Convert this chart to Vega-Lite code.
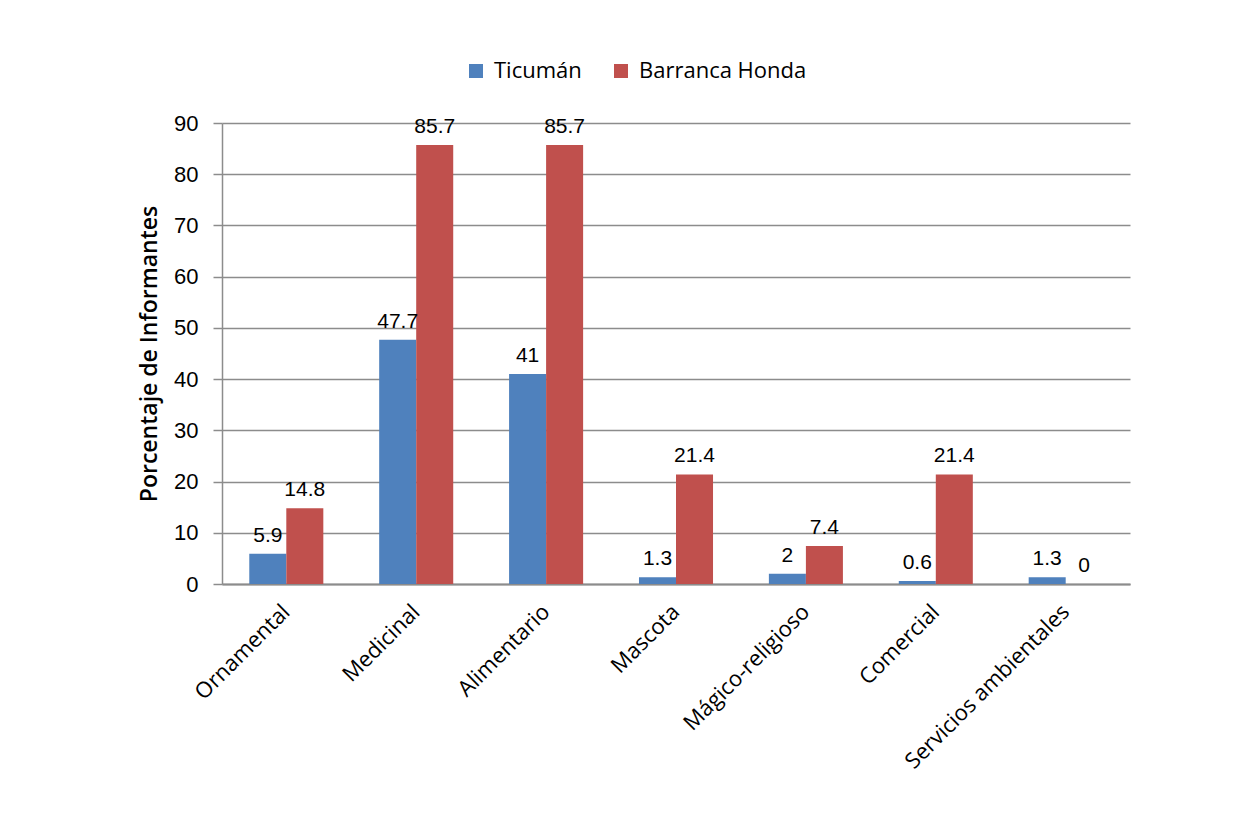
{
  "$schema": "https://vega.github.io/schema/vega-lite/v6.json",
  "width": 908,
  "height": 461,
  "autosize": {"type": "none"},
  "padding": {"left": 222, "top": 123, "right": 106, "bottom": 234},
  "background": "white",
  "config": {"view": {"stroke": null}, "font": "Open Sans"},
  "data": {
    "values": [
      {"uso": "Ornamental", "sitio": "Ticumán", "valor": 5.9},
      {"uso": "Ornamental", "sitio": "Barranca Honda", "valor": 14.8},
      {"uso": "Medicinal", "sitio": "Ticumán", "valor": 47.7},
      {"uso": "Medicinal", "sitio": "Barranca Honda", "valor": 85.7},
      {"uso": "Alimentario", "sitio": "Ticumán", "valor": 41},
      {"uso": "Alimentario", "sitio": "Barranca Honda", "valor": 85.7},
      {"uso": "Mascota", "sitio": "Ticumán", "valor": 1.3},
      {"uso": "Mascota", "sitio": "Barranca Honda", "valor": 21.4},
      {"uso": "Mágico-religioso", "sitio": "Ticumán", "valor": 2},
      {"uso": "Mágico-religioso", "sitio": "Barranca Honda", "valor": 7.4},
      {"uso": "Comercial", "sitio": "Ticumán", "valor": 0.6},
      {"uso": "Comercial", "sitio": "Barranca Honda", "valor": 21.4},
      {"uso": "Servicios ambientales", "sitio": "Ticumán", "valor": 1.3},
      {"uso": "Servicios ambientales", "sitio": "Barranca Honda", "valor": 0}
    ]
  },
  "encoding": {
    "x": {
      "field": "uso",
      "type": "nominal",
      "sort": null,
      "scale": {"paddingInner": 0.43, "paddingOuter": 0.21},
      "axis": {
        "title": null,
        "labelAngle": -45,
        "labelAlign": "right",
        "labelBaseline": "middle",
        "labelFontSize": 22,
        "labelFont": "Open Sans",
        "labelColor": "black",
        "labelLimit": 0,
        "ticks": false,
        "labelPadding": 24,
        "domainColor": "#8c8c8c",
        "domainWidth": 2
      }
    },
    "xOffset": {"field": "sitio", "type": "nominal", "sort": ["Ticumán", "Barranca Honda"]},
    "y": {
      "field": "valor",
      "type": "quantitative",
      "scale": {"domain": [0, 90]},
      "axis": {
        "title": "Porcentaje de Informantes",
        "titleFont": "Open Sans",
        "titleFontSize": 23,
        "titleFontWeight": 600,
        "titleColor": "black",
        "titlePadding": 12,
        "values": [0, 10, 20, 30, 40, 50, 60, 70, 80, 90],
        "labelFont": "Liberation Sans",
        "labelFontSize": 22,
        "labelColor": "black",
        "labelPadding": 15,
        "tickSize": 9,
        "tickColor": "#8c8c8c",
        "tickWidth": 1.5,
        "domainColor": "#8c8c8c",
        "domainWidth": 1.5,
        "gridColor": "#8c8c8c",
        "gridWidth": 1.5
      }
    }
  },
  "layer": [
    {
      "mark": {"type": "bar"},
      "encoding": {
        "color": {
          "field": "sitio",
          "type": "nominal",
          "sort": ["Ticumán", "Barranca Honda"],
          "scale": {"domain": ["Ticumán", "Barranca Honda"], "range": ["#4F81BD", "#C0504D"]},
          "legend": {
            "title": null,
            "orient": "none",
            "direction": "horizontal",
            "legendX": 243,
            "legendY": -63,
            "symbolType": "square",
            "symbolSize": 196,
            "symbolStrokeWidth": 0,
            "labelFont": "Open Sans",
            "labelFontSize": 22,
            "labelColor": "black",
            "labelLimit": 0,
            "labelOffset": 7,
            "columnPadding": 28
          }
        }
      }
    },
    {
      "mark": {"type": "text", "baseline": "bottom", "dy": -8, "fontSize": 21, "font": "Liberation Sans", "color": "black"},
      "encoding": {"text": {"field": "valor", "type": "nominal"}}
    }
  ]
}
